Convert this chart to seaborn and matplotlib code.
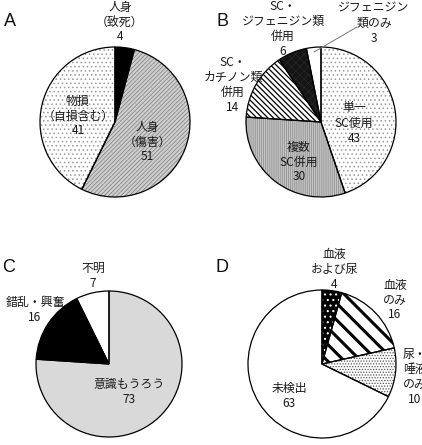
import matplotlib
matplotlib.use("Agg")
import matplotlib.pyplot as plt
import seaborn as sns

sns.set_theme(style="white")
plt.rcParams['font.family'] = ['Noto Sans CJK JP', 'DejaVu Sans']

W, H = 422, 445

# ---- data ----
a_labels = ["人身\n（致死）", "人身\n（傷害）", "物損\n（自損含む）"]
a_values = [4, 51, 41]
b_labels = ["単一\nSC使用", "複数\nSC併用", "SC・\nカチノン類\n併用", "SC・\nジフェニジン類\n併用", "ジフェニジン\n類のみ"]
b_values = [43, 30, 14, 6, 3]
c_labels = ["意識もうろう", "錯乱・興奮", "不明"]
c_values = [73, 16, 7]
d_labels = ["血液\nおよび尿", "血液\nのみ", "尿・\n唾液\nのみ", "未検出"]
d_values = [4, 16, 10, 63]

fig = plt.figure(figsize=(W / 100, H / 100), dpi=100)
ax = fig.add_axes([0, 0, 1, 1])
ax.set_xlim(0, W)
ax.set_ylim(0, H)
ax.set_aspect('equal')
ax.axis('off')


def Y(y):
    return H - y


def draw_pie(values, center, r, faces, hatches, hcols, hlws):
    cx, cy = center
    wedges, _ = ax.pie(values, colors=faces, startangle=90, counterclock=False,
                       center=(cx, Y(cy)), radius=r, frame=True,
                       wedgeprops=dict(linewidth=0))
    for w, h, hc, lw in zip(wedges, hatches, hcols, hlws):
        if h:
            w.set_hatch(h)
            w.set_edgecolor(hc)
            w.set_linewidth(0)
            try:
                w.set_hatch_linewidth(lw)
            except AttributeError:
                pass
    ax.pie(values, colors=['none'] * len(values), startangle=90, counterclock=False,
           center=(cx, Y(cy)), radius=r, frame=True,
           wedgeprops=dict(linewidth=0.9, edgecolor='black', facecolor='none'))
    ax.set_xlim(0, W)
    ax.set_ylim(0, H)
    ax.axis('off')


plt.rcParams['hatch.linewidth'] = 0.6

# A
draw_pie(a_values, (115, 122), 75,
         ['black', '#cfcfcf', 'white'],
         [None, '////////', '....'],
         [None, '#7a7a7a', '#9a9a9a'],
         [0, 0.5, 0.6])
# B
draw_pie(b_values, (321, 122), 75,
         ['white', '#c4c4c4', 'white', '#151515', 'white'],
         ['....', '||||||||', '\\\\\\\\\\\\', 'xxxx', None],
         ['#9a9a9a', '#8a8a8a', 'black', '#2c2c2c', None],
         [0.6, 0.5, 0.9, 0.4, 0])
# C
draw_pie(c_values, (109, 364), 73,
         ['#d9d9d9', 'black', 'white'],
         [None, None, None],
         [None, None, None],
         [0, 0, 0])
# D
draw_pie(d_values, (322, 364), 74,
         ['black', 'white', 'white', 'white'],
         ['...', '\\\\', '......', None],
         ['white', 'black', '#555555', None],
         [0.8, 2.2, 0.6, 0])

fs = 8.6
ls = 1.2


def lab(x, y, name, val, **kw):
    ax.text(x, Y(y), f"{name}\n{val}", ha='center', va='center', fontsize=fs,
            linespacing=ls, color='#1a1a1a', **kw)


# A labels
lab(120, 22, a_labels[0], a_values[0])
lab(147, 142, a_labels[1], a_values[1])
lab(78, 116, a_labels[2], a_values[2])
# B labels
lab(354, 123, b_labels[0], b_values[0])
lab(299, 162, b_labels[1], b_values[1])
lab(233, 85, b_labels[2], b_values[2])
lab(283, 29, b_labels[3], b_values[3])
lab(374, 23, b_labels[4], b_values[4])
ax.plot([357, 314], [Y(27), Y(52)], color='#777777', lw=0.7)
# C labels
lab(129, 392, c_labels[0], c_values[0])
lab(35, 310, c_labels[1], c_values[1])
lab(93, 276, c_labels[2], c_values[2])
# D labels
lab(334, 269, d_labels[0], d_values[0])
lab(395, 300, d_labels[1], d_values[1])
lab(415, 377, d_labels[2], d_values[2])
lab(289, 396, d_labels[3], d_values[3])

for t, x, y in [("A", 10, 22), ("B", 222, 22), ("C", 9, 268), ("D", 222, 268)]:
    ax.text(x, Y(y), t, ha='center', va='center', fontsize=13,
            family='Liberation Sans', color='#111111')

fig.savefig("out.png", dpi=100)
